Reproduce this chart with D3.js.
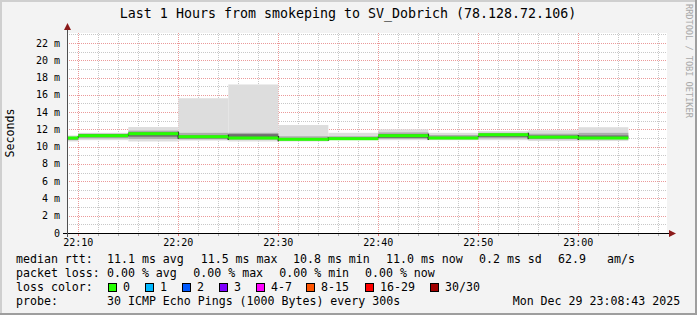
<!DOCTYPE html>
<html>
<head>
<meta charset="utf-8">
<script src="https://cdn.jsdelivr.net/npm/d3@7"></script>
<style>
  html, body { margin: 0; padding: 0; background: #f3f3f3; }
  svg text { font-family: "DejaVu Sans Mono", monospace; white-space: pre; }
</style>
</head>
<body>
<div id="chart"></div>
<script>
// Segment end times (5 minute steps), first segment starts at the graph's left edge
const segEnd = ["22:10", "22:15", "22:20", "22:25", "22:30", "22:35", "22:40", "22:45", "22:50", "22:55", "23:00", "23:05"];
// median rtt per step (ms)
const median = [11.0, 11.27, 11.5, 11.15, 11.0, 10.85, 10.92, 11.27, 11.0, 11.38, 11.1, 11.0];
// smoke (ping distribution) per step (ms)
const pingMin = [10.6, 10.75, 10.6, 10.7, 10.6, 10.6, 10.75, 10.75, 10.75, 10.75, 10.65, 10.65];
const pingQ10 = [10.75, 10.95, 10.9, 10.85, 10.8, 10.7, 10.8, 10.9, 10.85, 10.95, 10.85, 10.85];
const pingQ25 = [10.85, 11.1, 11.15, 10.95, 10.95, 10.78, 10.85, 11.0, 10.92, 11.1, 10.95, 10.95];
const pingQ75 = [11.1, 11.45, 11.65, 11.3, 11.45, 11.0, 11.05, 11.45, 11.15, 11.5, 11.3, 11.3];
const pingQ90 = [11.15, 11.5, 11.85, 11.6, 11.6, 11.2, 11.2, 11.65, 11.35, 11.6, 11.5, 11.6];
const pingMax = [11.3, 11.6, 12.27, 15.6, 17.2, 12.5, 11.6, 12.0, 11.6, 11.8, 11.9, 12.25];

const yTicks = [0, 2, 4, 6, 8, 10, 12, 14, 16, 18, 20, 22];
const lossLabels = ["0", "1", "2", "3", "4-7", "8-15", "16-29", "30/30"];
const lossColors = ["#26ff00", "#00b8ff", "#0059ff", "#7e00ff", "#ff00ff", "#ff5500", "#ff0000", "#a00000"];

const W = 697, H = 315;
const pLeft = 67, pRight = 667, pTop = 33, pBottom = 233;

const parseT = s => { const [h, m] = s.split(":").map(Number); return new Date(2025, 11, 29, h, m, 0); };
const tStart = new Date(2025, 11, 29, 22, 8, 52);
const tEnd = new Date(2025, 11, 29, 23, 8, 52);

const x = d3.scaleTime().domain([tStart, tEnd]).range([pLeft, pRight]);
const y = d3.scaleLinear().domain([0, 23.16]).range([pBottom, pTop]);

const svg = d3.select("#chart").append("svg")
  .attr("width", W).attr("height", H);

// background and shaded frame
svg.append("rect").attr("width", W).attr("height", H).attr("fill", "#f3f3f3");
svg.append("path").attr("d", `M0,${H} V0 H${W}`).attr("fill", "none").attr("stroke", "#cfcfcf").attr("stroke-width", 4);
svg.append("path").attr("d", `M0,${H} H${W} V0`).attr("fill", "none").attr("stroke", "#9e9e9e").attr("stroke-width", 4);

// plot canvas
svg.append("rect").attr("x", pLeft).attr("y", pTop).attr("width", pRight - pLeft).attr("height", pBottom - pTop).attr("fill", "#ffffff");

// grid
const grid = svg.append("g");
const minorX = d3.timeMinute.every(2).range(tStart, tEnd);
minorX.forEach(t => {
  const major = t.getMinutes() % 10 === 0;
  grid.append("line").attr("x1", Math.round(x(t)) + 0.5).attr("x2", Math.round(x(t)) + 0.5).attr("y1", pTop).attr("y2", pBottom)
    .attr("stroke", major ? "#eb9a9a" : "#c8c8c8").attr("stroke-dasharray", "1,1");
});
d3.range(1, 24).forEach(v => {
  const major = v % 2 === 0;
  grid.append("line").attr("x1", pLeft).attr("x2", pRight).attr("y1", Math.round(y(v)) + 0.5).attr("y2", Math.round(y(v)) + 0.5)
    .attr("stroke", major ? "#eb9a9a" : "#c8c8c8").attr("stroke-dasharray", "1,1");
});

// smoke bands
const segs = segEnd.map((e, i) => ({
  t0: i === 0 ? tStart : parseT(segEnd[i - 1]),
  t1: parseT(e),
  med: median[i], min: pingMin[i], q10: pingQ10[i], q25: pingQ25[i], q75: pingQ75[i], q90: pingQ90[i], max: pingMax[i]
}));

const bands = [
  { lo: "min", hi: "max", color: "#dddddd" },
  { lo: "q10", hi: "q90", color: "#acacac" },
  { lo: "q25", hi: "q75", color: "#6e6e6e" }
];
bands.forEach(b => {
  svg.append("g").selectAll("rect").data(segs).enter().append("rect")
    .attr("x", d => x(d.t0))
    .attr("width", d => x(d.t1) - x(d.t0))
    .attr("y", d => y(d[b.hi]))
    .attr("height", d => y(d[b.lo]) - y(d[b.hi]))
    .attr("fill", b.color);
});

// dark steps between medians
svg.append("g").selectAll("line").data(segs.slice(1)).enter().append("line")
  .attr("x1", d => x(d.t0)).attr("x2", d => x(d.t0))
  .attr("y1", (d, i) => y(segs[i].med) - 2).attr("y2", d => y(d.med) + 2)
  .attr("stroke", "#202020").attr("stroke-width", 1.5);

// median line (0 loss colour)
svg.append("g").selectAll("rect").data(segs).enter().append("rect")
  .attr("x", d => x(d.t0))
  .attr("width", d => x(d.t1) - x(d.t0))
  .attr("y", d => y(d.med) - 1.5)
  .attr("height", 3)
  .attr("fill", lossColors[0]);

// axes
svg.append("line").attr("x1", pLeft - 4).attr("x2", pRight + 2).attr("y1", pBottom + 0.5).attr("y2", pBottom + 0.5).attr("stroke", "#000");
svg.append("line").attr("x1", pLeft + 0.5).attr("x2", pLeft + 0.5).attr("y1", pBottom + 4).attr("y2", pTop - 3).attr("stroke", "#505050");
svg.append("path").attr("d", `M${pRight + 2},${pBottom - 3} L${pRight + 9},${pBottom + 0.5} L${pRight + 2},${pBottom + 4} Z`).attr("fill", "#8b1a1a");
svg.append("path").attr("d", `M${pLeft - 3},${pTop - 3} L${pLeft + 0.5},${pTop - 10} L${pLeft + 4},${pTop - 3} Z`).attr("fill", "#8b1a1a");

// small ticks under x axis
minorX.forEach(t => {
  const major = t.getMinutes() % 10 === 0;
  svg.append("line").attr("x1", Math.round(x(t)) + 0.5).attr("x2", Math.round(x(t)) + 0.5).attr("y1", pBottom + 1).attr("y2", pBottom + 3)
    .attr("stroke", major ? "#e07070" : "#b0b0b0");
});

const fmt = d3.timeFormat("%H:%M");
svg.append("g").selectAll("text").data(d3.timeMinute.every(10).range(tStart, tEnd)).enter().append("text")
  .attr("x", d => x(d)).attr("y", 246).attr("text-anchor", "middle")
  .attr("font-size", "10px").attr("fill", "#000").text(d => fmt(d));

svg.append("g").selectAll("text").data(yTicks).enter().append("text")
  .attr("x", 60).attr("y", d => y(d) + 3.5).attr("text-anchor", "end")
  .attr("font-size", "10px").attr("fill", "#000").text(d => d === 0 ? "0" : d + " m");

svg.append("text").attr("transform", "translate(14,133) rotate(-90)").attr("text-anchor", "middle")
  .attr("font-size", "11.6px").text("Seconds");

// title
svg.append("text").attr("x", 348).attr("y", 18).attr("text-anchor", "middle")
  .attr("font-size", "13.3px").text("Last 1 Hours from smokeping to SV_Dobrich (78.128.72.106)");

// watermark
svg.append("text").attr("transform", "translate(685.5,4) rotate(90)")
  .attr("font-size", "8.6px").attr("fill", "#a8a8a8").text("RRDTOOL / TOBI OETIKER");

// legend
const lg = svg.append("g").attr("font-size", "11.6px").attr("fill", "#000");
const legendText = [
  [16, 263, "median rtt:"], [107, 263, "11.1 ms avg"], [200.7, 263, "11.5 ms max"], [293, 263, "10.8 ms min"],
  [386, 263, "11.0 ms now"], [479, 263, "0.2 ms sd"], [558, 263, "62.9"], [607, 263, "am/s"],
  [16, 277, "packet loss:"], [107, 277, "0.00 % avg"], [193.3, 277, "0.00 % max"], [279.3, 277, "0.00 % min"], [365, 277, "0.00 % now"],
  [16, 291, "loss color:"],
  [16, 305, "probe:"], [107, 305, "30 ICMP Echo Pings (1000 Bytes) every 300s"], [512.7, 305, "Mon Dec 29 23:08:43 2025"]
];
legendText.forEach(([tx, ty, s]) => lg.append("text").attr("x", tx).attr("y", ty).text(s));

const boxX = [108.5, 145.5, 182.5, 219.5, 256.5, 306.5, 365.5, 430.5];
lossLabels.forEach((l, i) => {
  lg.append("rect").attr("x", boxX[i]).attr("y", 283.5).attr("width", 8).attr("height", 8)
    .attr("fill", lossColors[i]).attr("stroke", "#000").attr("stroke-width", 1);
  lg.append("text").attr("x", boxX[i] + 14.5).attr("y", 291).text(l);
});
</script>
</body>
</html>
